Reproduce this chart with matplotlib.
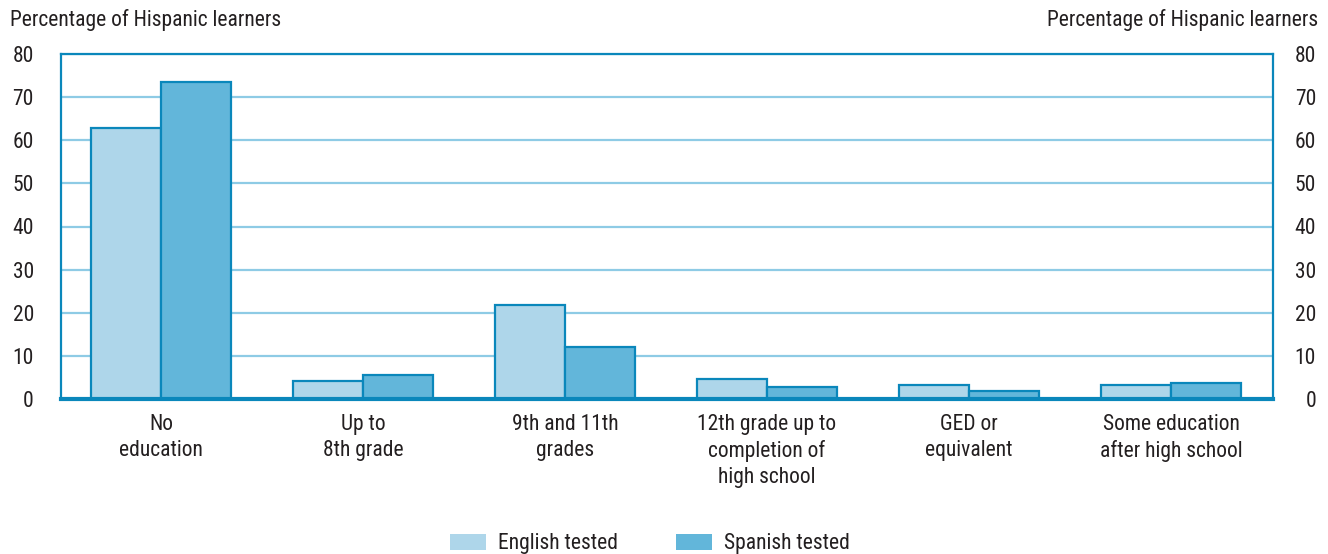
import matplotlib
matplotlib.use("Agg")
import matplotlib.pyplot as plt
import numpy as np
from matplotlib.patches import Patch

plt.rcParams['font.family'] = ['Roboto Condensed', 'DejaVu Sans']

categories = ["No\neducation", "Up to\n8th grade", "9th and 11th\ngrades",
              "12th grade up to\ncompletion of\nhigh school", "GED or\nequivalent",
              "Some education\nafter high school"]
english_tested = [62.8, 4.2, 21.8, 4.6, 3.2, 3.2]
spanish_tested = [73.5, 5.6, 12.1, 2.8, 1.9, 3.7]
series_names = ["English tested", "Spanish tested"]
yticks = [0, 10, 20, 30, 40, 50, 60, 70, 80]
axis_title = "Percentage of Hispanic learners"

light = "#AED6EA"
dark = "#62B6DA"
edge = "#0A87BB"
grid = "#8ECBE5"
text_col = "#231F20"
fs = 15.5

fig = plt.figure(figsize=(13.28, 5.54), dpi=100)
ax = fig.add_axes([61/1328, 1 - 399/554, (1273-61)/1328, (399-54)/554])

x = np.arange(len(categories))
w = 0.347
ax.bar(x - w/2, english_tested, w, color=light, edgecolor=edge, linewidth=1.6, zorder=3)
ax.bar(x + w/2, spanish_tested, w, color=dark, edgecolor=edge, linewidth=1.6, zorder=3)

ax.set_xlim(-0.495, 5.505)
ax.set_ylim(0, 80)
ax.set_yticks(yticks)
ax.yaxis.grid(True, color=grid, linewidth=1.6, zorder=0)
ax.set_axisbelow(True)
ax.tick_params(axis='y', length=0, labelsize=fs, pad=19.5, colors=text_col)

# mirrored value scale on the right
ax2 = ax.twinx()
ax2.set_ylim(ax.get_ylim())
ax2.set_yticks(yticks)
ax2.tick_params(axis='y', length=0, labelsize=fs, pad=31, colors=text_col)
for lbl in ax2.get_yticklabels():
    lbl.set_horizontalalignment('right')
for s in ax2.spines.values():
    s.set_visible(False)

ax.set_xticks(x)
ax.set_xticklabels(categories, fontsize=fs, color=text_col, linespacing=1.28)
ax.tick_params(axis='x', length=0, pad=11)

for side in ['left', 'right', 'top']:
    ax.spines[side].set_color(edge)
    ax.spines[side].set_linewidth(1.6)
ax.spines['bottom'].set_color(edge)
ax.spines['bottom'].set_linewidth(3)
ax.spines['bottom'].set_zorder(4)

fig.text(10/1328, 1 - 20/554, axis_title, fontsize=fs,
         color=text_col, ha='left', va='center')
fig.text(1318/1328, 1 - 20/554, axis_title, fontsize=fs,
         color=text_col, ha='right', va='center')

handles = [Patch(facecolor=light, edgecolor='none'), Patch(facecolor=dark, edgecolor='none')]
fig.legend(handles, series_names, loc='center', bbox_to_anchor=(650/1328, 1 - 544/554),
           ncol=2, frameon=False, fontsize=fs, handlelength=1.67, handleheight=0.79,
           columnspacing=2.7, handletextpad=0.56, labelcolor=text_col, borderpad=0)

fig.savefig("out.png", dpi=100)
